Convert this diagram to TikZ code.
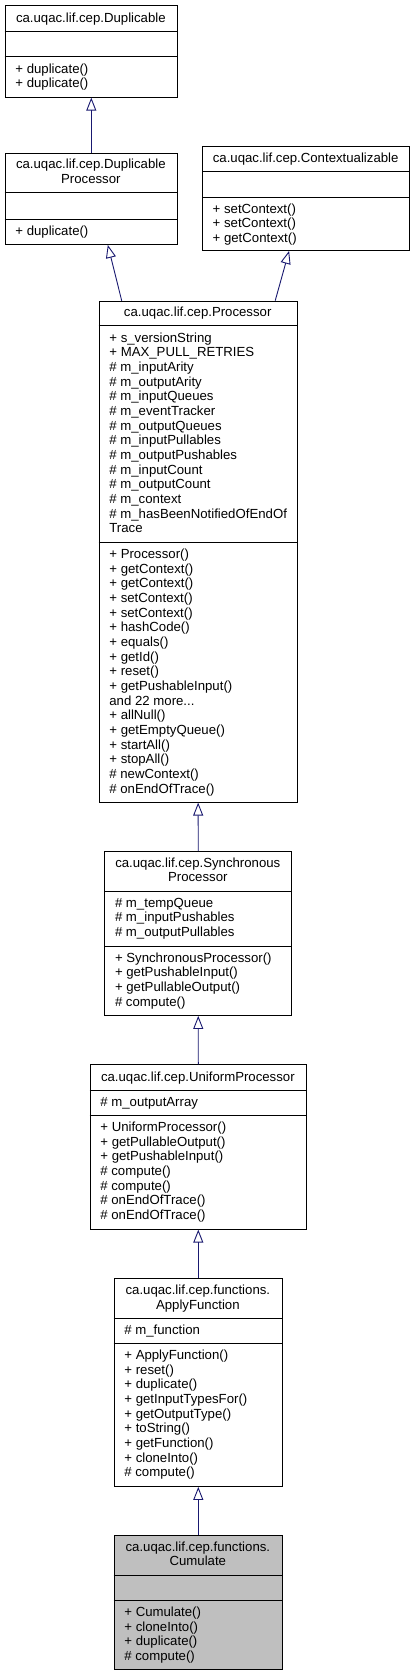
\documentclass[tikz,border=0pt]{standalone}
\usepackage{fontspec}
\setmainfont{Liberation Sans}
\usetikzlibrary{arrows.meta}
\definecolor{edgeblue}{HTML}{191970}
\definecolor{focusgray}{HTML}{BFBFBF}
\tikzset{
  classbox/.style={draw=black, line width=0.9pt, inner sep=0pt, anchor=north west},
  sepline/.style={draw=black, line width=0.9pt},
  txt/.style={inner sep=0pt, anchor=base west, font=\fontsize{13.2}{14.66}\selectfont},
  ttl/.style={inner sep=0pt, anchor=base, font=\fontsize{13.2}{14.66}\selectfont},
  inherit/.style={draw=edgeblue, line width=0.9pt, -{Triangle[open, length=13pt, width=10pt]}},
}
\newcommand\threedots{.{}.{}.}
\newcommand\clines[4]{\foreach \t [count=\i from 0] in {#4} {\node[txt] (#1\i) at (#2,{#3+\i*14.66}) {\t};}}
\newcommand\cbox[6]{\node[classbox, fill=#6, minimum width={#4-#2}, minimum height={#5-#3}] (#1) at (#2,#3) {};}
\begin{document}
\begin{tikzpicture}[x=1pt,y=-1pt]
\useasboundingbox (0,0) rectangle (415,1676);
\fill[white] (0,0) rectangle (415,1676);

% Duplicable
\cbox{dup}{4.7}{5}{177}{96.7}{white}
\draw[sepline] (4.7,31.3) -- (177,31.3);
\draw[sepline] (4.7,56.7) -- (177,56.7);
\node[ttl] (dupt) at (90.85,22) {ca.uqac.lif.cep.Duplicable};
\clines{dupm}{15.2}{73}{+ duplicate(), + duplicate()}

% DuplicableProcessor
\cbox{dupproc}{4.7}{153.3}{177}{244}{white}
\draw[sepline] (4.7,192.7) -- (177,192.7);
\draw[sepline] (4.7,219) -- (177,219);
\node[ttl] (dupproct1) at (90.85,168.6) {ca.uqac.lif.cep.Duplicable};
\node[ttl] (dupproct2) at (90.85,183.26) {Processor};
\clines{dupprocm}{15.2}{235}{+ duplicate()}

% Contextualizable
\cbox{ctx}{202}{145.7}{409.3}{250}{white}
\draw[sepline] (202,171.7) -- (409.3,171.7);
\draw[sepline] (202,197.3) -- (409.3,197.3);
\node[ttl] (ctxt) at (305.65,162.3) {ca.uqac.lif.cep.Contextualizable};
\clines{ctxm}{212.5}{213.3}{+ setContext(), + setContext(), + getContext()}

% Processor
\cbox{proc}{98.7}{300.7}{296.7}{801.7}{white}
\draw[sepline] (98.7,325.7) -- (296.7,325.7);
\draw[sepline] (98.7,542.3) -- (296.7,542.3);
\node[ttl] (proct) at (197.7,316.9) {ca.uqac.lif.cep.Processor};
\clines{proca}{109.2}{342.3}{+ s\_versionString, + MAX\_PULL\_RETRIES, \# m\_inputArity, \# m\_outputArity, \# m\_inputQueues, \# m\_eventTracker, \# m\_outputQueues, \# m\_inputPullables, \# m\_outputPushables, \# m\_inputCount, \# m\_outputCount, \# m\_context, \# m\_hasBeenNotifiedOfEndOf, Trace}
\clines{procm}{109.2}{558.6}{+ Processor(), + getContext(), + getContext(), + setContext(), + setContext(), + hashCode(), + equals(), + getId(), + reset(), + getPushableInput(), {and 22 more\threedots}, + allNull(), + getEmptyQueue(), + startAll(), + stopAll(), \# newContext(), \# onEndOfTrace()}

% SynchronousProcessor
\cbox{sync}{104.3}{851}{291.3}{1015}{white}
\draw[sepline] (104.3,891) -- (291.3,891);
\draw[sepline] (104.3,946) -- (291.3,946);
\node[ttl] (synct1) at (197.8,867.3) {ca.uqac.lif.cep.Synchronous};
\node[ttl] (synct2) at (197.8,881.96) {Processor};
\clines{synca}{114.8}{907.3}{\# m\_tempQueue, \# m\_inputPushables, \# m\_outputPullables}
\clines{syncm}{114.8}{962.3}{+ SynchronousProcessor(), + getPushableInput(), + getPullableOutput(), \# compute()}

% UniformProcessor
\cbox{uni}{89.7}{1064.3}{306}{1228.7}{white}
\draw[sepline] (89.7,1090) -- (306,1090);
\draw[sepline] (89.7,1115.3) -- (306,1115.3);
\node[ttl] (unit) at (197.85,1081.3) {ca.uqac.lif.cep.UniformProcessor};
\clines{unia}{100.2}{1106.3}{\# m\_outputArray}
\clines{unim}{100.2}{1131.5}{+ UniformProcessor(), + getPullableOutput(), + getPushableInput(), \# compute(), \# compute(), \# onEndOfTrace(), \# onEndOfTrace()}

% ApplyFunction
\cbox{apply}{113.7}{1277.7}{282}{1486}{white}
\draw[sepline] (113.7,1318.3) -- (282,1318.3);
\draw[sepline] (113.7,1343.3) -- (282,1343.3);
\node[ttl] (applyt1) at (197.85,1294.6) {ca.uqac.lif.cep.functions.};
\node[ttl] (applyt2) at (197.85,1309.26) {ApplyFunction};
\clines{applya}{124.2}{1334.3}{\# m\_function}
\clines{applym}{124.2}{1359.6}{+ ApplyFunction(), + reset(), + duplicate(), + getInputTypesFor(), + getOutputType(), + toString(), + getFunction(), + cloneInto(), \# compute()}

% Cumulate
\cbox{cum}{113.7}{1535}{282}{1669.3}{focusgray}
\draw[sepline] (113.7,1575) -- (282,1575);
\draw[sepline] (113.7,1600.3) -- (282,1600.3);
\node[ttl] (cumt1) at (197.85,1551.3) {ca.uqac.lif.cep.functions.};
\node[ttl] (cumt2) at (197.85,1565.96) {Cumulate};
\clines{cumm}{124.2}{1616.6}{+ Cumulate(), + cloneInto(), + duplicate(), \# compute()}

% inheritance arrows
\draw[inherit] (dupproc.north) -- (dup.south);
\draw[inherit] ([xshift=23pt]proc.north west) -- ([xshift=16.5pt]dupproc.south);
\draw[inherit] ([xshift=-22.4pt]proc.north east) -- ([xshift=-17pt]ctx.south);
\draw[inherit] (sync.north) -- (proc.south);
\draw[inherit] (uni.north) -- (sync.south);
\draw[inherit] (apply.north) -- (uni.south);
\draw[inherit] (cum.north) -- (apply.south);
\end{tikzpicture}
\end{document}
